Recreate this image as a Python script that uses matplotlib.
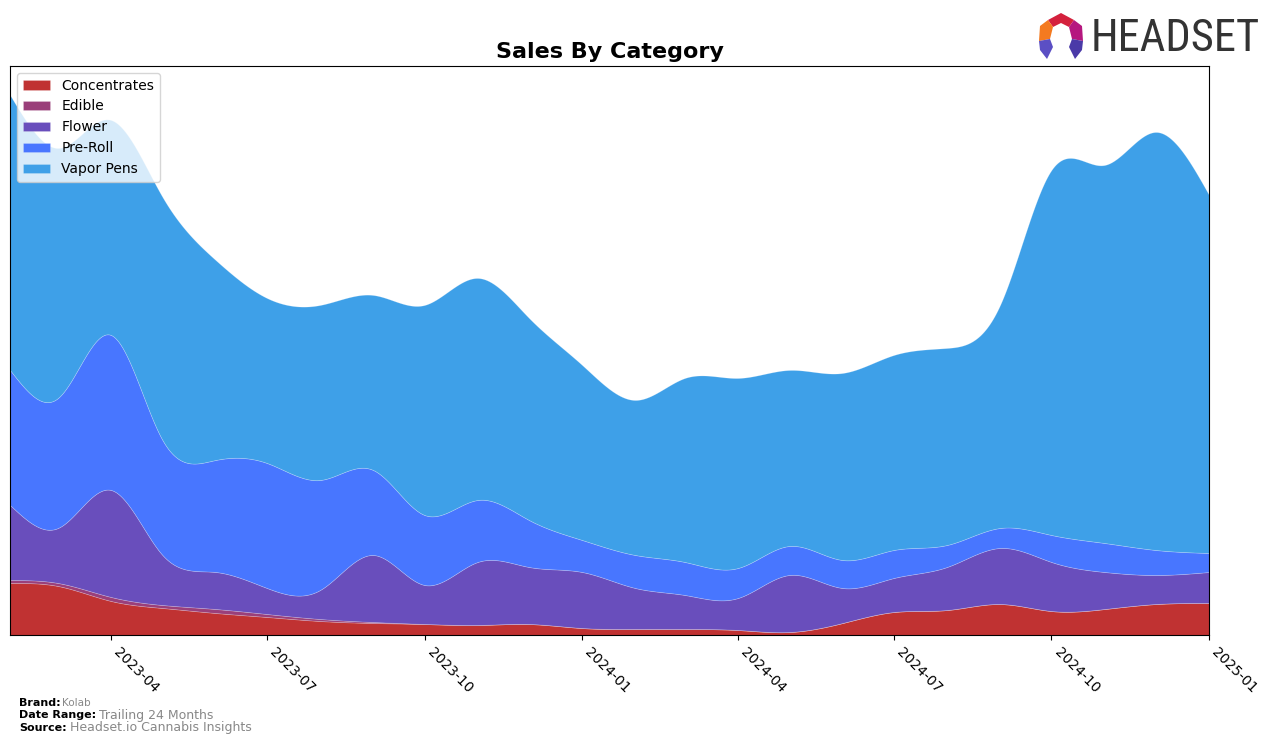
import numpy as np
import pandas as pd
import matplotlib
matplotlib.use("Agg")
import matplotlib.pyplot as plt
import matplotlib.dates as mdates
from matplotlib.patches import Polygon

# ---------------- data ----------------
months = pd.date_range("2023-02-01", "2025-01-01", freq="MS")
categories = ["Concentrates", "Edible", "Flower", "Pre-Roll", "Vapor Pens"]
concentrates = [52, 49, 34, 27, 22, 18, 14, 12, 11, 10, 11, 7, 6, 6, 5, 3, 12, 23, 25, 31, 24, 26, 31, 32]
edible = [3, 3, 4, 3, 4, 3, 2, 1, 0, 0, 0, 0, 0, 0, 0, 0, 0, 0, 0, 0, 0, 0, 0, 0]
flower = [75, 55, 107, 50, 37, 26, 29, 67, 39, 63, 57, 56, 41, 34, 32, 57, 35, 34, 43, 56, 49, 37, 29, 31]
preroll = [135, 130, 155, 115, 112, 125, 110, 85, 70, 62, 47, 32, 33, 33, 30, 29, 28, 28, 22, 20, 27, 29, 25, 19]
vapor = [275, 250, 215, 243, 200, 165, 175, 175, 210, 222, 202, 175, 155, 184, 190, 176, 187, 195, 197, 223, 365, 378, 418, 358]
colors = ["#C03232", "#9A3F7A", "#694EBC", "#4876FF", "#3EA0E8"]
tick_dates = pd.date_range("2023-04-01", "2025-01-01", freq="QS")


def natural_spline(x, y, xs):
    x = np.asarray(x, float)
    y = np.asarray(y, float)
    n = len(x)
    h = np.diff(x)
    A = np.zeros((n, n))
    b = np.zeros(n)
    A[0, 0] = 1
    A[-1, -1] = 1
    for i in range(1, n - 1):
        A[i, i - 1] = h[i - 1]
        A[i, i] = 2 * (h[i - 1] + h[i])
        A[i, i + 1] = h[i]
        b[i] = 3 * ((y[i + 1] - y[i]) / h[i] - (y[i] - y[i - 1]) / h[i - 1])
    c = np.linalg.solve(A, b)
    bb = (y[1:] - y[:-1]) / h - h * (2 * c[:-1] + c[1:]) / 3
    d = (c[1:] - c[:-1]) / (3 * h)
    idx = np.clip(np.searchsorted(x, xs) - 1, 0, n - 2)
    dx = xs - x[idx]
    return y[idx] + bb[idx] * dx + c[idx] * dx ** 2 + d[idx] * dx ** 3


xnum = mdates.date2num(months)
xs = np.linspace(xnum[0], xnum[-1], 800)
series = [concentrates, edible, flower, preroll, vapor]
smooth = [np.clip(natural_spline(xnum, s, xs), 0, None) for s in series]

# ---------------- figure ----------------
fig = plt.figure(figsize=(12.76, 7.44), dpi=100)
ax = fig.add_axes([10 / 1276, 1 - 635 / 744, 1199 / 1276, 569 / 744])

ax.stackplot(xs, *smooth, labels=categories, colors=colors,
             edgecolor=(1, 1, 1, 0.25), linewidth=0.5)

ax.set_xlim(xnum[0], xnum[-1])
ax.set_ylim(0, 569)
ax.set_yticks([])
ax.set_xticks(mdates.date2num(tick_dates))
ax.xaxis.set_major_formatter(mdates.DateFormatter("%Y-%m"))
for lbl in ax.get_xticklabels():
    lbl.set_rotation(-45)
    lbl.set_ha("left")
    lbl.set_fontsize(10)

ax.set_title("Sales By Category", fontsize=16, fontweight="bold", pad=6)
ax.legend(loc="upper left", fontsize=10, framealpha=0.8, borderpad=0.4,
          handlelength=2.0, handleheight=0.7)

# ---------------- footer ----------------
fig.text(19 / 1276, 1 - 703 / 744, "Brand:", fontsize=8, fontweight="bold", va="center")
fig.text(62 / 1276, 1 - 703 / 744, "Kolab", fontsize=7.5, color="#888888", va="center")
fig.text(19 / 1276, 1 - 715 / 744, "Date Range:", fontsize=8, fontweight="bold", va="center")
fig.text(99 / 1276, 1 - 715 / 744, "Trailing 24 Months", fontsize=9, color="#888888", va="center")
fig.text(19 / 1276, 1 - 728 / 744, "Source:", fontsize=8, fontweight="bold", va="center")
fig.text(70 / 1276, 1 - 728 / 744, "Headset.io Cannabis Insights", fontsize=9, color="#888888", va="center")

# ---------------- logo ----------------
lax = fig.add_axes([1036 / 1276, 1 - 62 / 744, 50 / 1276, 50 / 744])
lax.set_xlim(0, 50)
lax.set_ylim(50, 0)
lax.axis("off")
shapes = [
    ([(12, 8), (25, 1), (38, 8), (33, 15), (25, 11), (17, 15)], "#D4213D"),
    ([(12, 8), (17, 15), (14, 27), (3, 29), (4, 14)], "#F47A20"),
    ([(38, 8), (46, 14), (47, 29), (36, 27), (33, 15)], "#B5177F"),
    ([(3, 29), (14, 27), (17, 35), (11, 47), (4, 38)], "#5B4FC4"),
    ([(47, 29), (36, 27), (33, 35), (39, 47), (46, 38)], "#4A3AA8"),
]
for pts, col in shapes:
    lax.add_patch(Polygon(pts, closed=True, facecolor=col, edgecolor="none"))
fig.text(1091 / 1276, 1 - 39 / 744, "HEADSET", fontsize=32, color="#333333",
         va="center", ha="left", family=["Roboto Condensed", "Roboto", "DejaVu Sans"])

fig.savefig("out.png", dpi=100)
